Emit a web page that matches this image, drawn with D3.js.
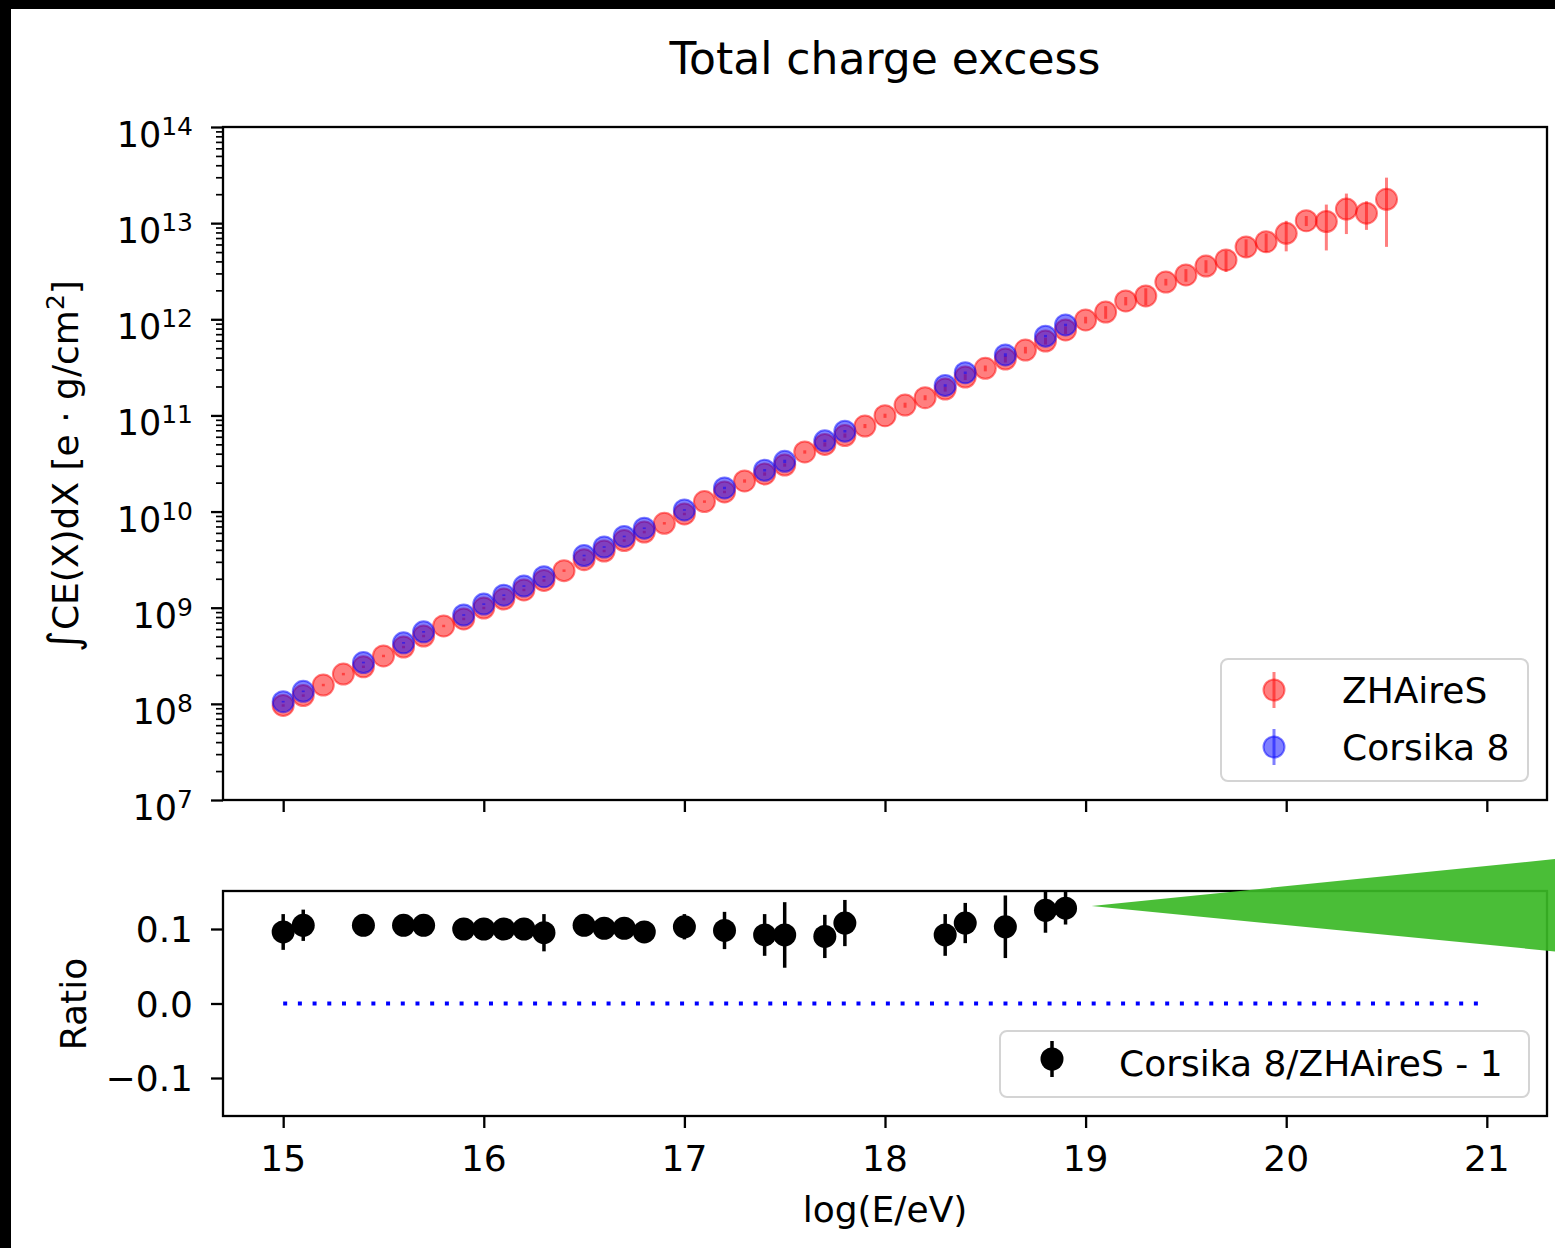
<!DOCTYPE html>
<html>
<head>
<meta charset="utf-8">
<script src="https://cdn.jsdelivr.net/npm/d3@7"></script>
<style>
  body { margin: 0; background: #fff; }
  svg text { font-family: "DejaVu Sans", sans-serif; fill: #000; }
</style>
</head>
<body>
<svg id="chart" width="1555" height="1248"></svg>
<script>
// ZHAireS: every 0.1 in log(E/eV)
var energies = [15.0, 15.1, 15.2, 15.3, 15.4, 15.5, 15.6, 15.7, 15.8, 15.9,
                16.0, 16.1, 16.2, 16.3, 16.4, 16.5, 16.6, 16.7, 16.8, 16.9,
                17.0, 17.1, 17.2, 17.3, 17.4, 17.5, 17.6, 17.7, 17.8, 17.9,
                18.0, 18.1, 18.2, 18.3, 18.4, 18.5, 18.6, 18.7, 18.8, 18.9,
                19.0, 19.1, 19.2, 19.3, 19.4, 19.5, 19.6, 19.7, 19.8, 19.9,
                20.0, 20.1, 20.2, 20.3, 20.4, 20.5];
var zhaires = [9.62e7, 1.22e8, 1.57e8, 2.04e8, 2.43e8, 3.15e8, 3.90e8, 5.08e8, 6.46e8, 7.64e8,
               9.93e8, 1.23e9, 1.53e9, 1.92e9, 2.43e9, 3.16e9, 3.89e9, 5.00e9, 6.12e9, 7.55e9,
               9.44e9, 1.27e10, 1.60e10, 2.08e10, 2.46e10, 3.05e10, 4.17e10, 4.99e10, 6.18e10, 7.76e10,
               9.93e10, 1.28e11, 1.53e11, 1.88e11, 2.51e11, 3.09e11, 3.86e11, 4.79e11, 5.94e11, 7.74e11,
               9.84e11, 1.19e12, 1.55e12, 1.75e12, 2.44e12, 2.89e12, 3.58e12, 4.14e12, 5.65e12, 6.41e12,
               7.83e12, 1.06e13, 1.04e13, 1.40e13, 1.27e13, 1.77e13];
// relative errors
var zhairesErr = [0.03, 0.03, 0.03, 0.03, 0.03, 0.03, 0.03, 0.03, 0.03, 0.03,
                  0.03, 0.03, 0.03, 0.03, 0.03, 0.03, 0.03, 0.03, 0.03, 0.03,
                  0.03, 0.03, 0.03, 0.04, 0.04, 0.04, 0.04, 0.05, 0.05, 0.05,
                  0.05, 0.06, 0.06, 0.06, 0.07, 0.07, 0.08, 0.08, 0.08, 0.09,
                  0.08, 0.15, 0.10, 0.20, 0.08, 0.15, 0.15, 0.25, 0.20, 0.22,
                  0.35, 0.12, 0.50, 0.45, 0.33, 0.68];

var corsikaE = [15.0, 15.1, 15.4, 15.6, 15.7, 15.9, 16.0, 16.1, 16.2, 16.3, 16.5, 16.6, 16.7,
                16.8, 17.0, 17.2, 17.4, 17.5, 17.7, 17.8, 18.3, 18.4, 18.6, 18.8, 18.9];
var corsika = [1.054e8, 1.35e8, 2.69e8, 4.31e8, 5.61e8, 8.40e8, 1.09e9, 1.35e9, 1.68e9, 2.10e9,
               3.49e9, 4.28e9, 5.51e9, 6.71e9, 1.04e10, 1.76e10, 2.69e10, 3.33e10, 5.44e10,
               6.85e10, 2.05e11, 2.78e11, 4.26e11, 6.68e11, 8.73e11];
var corsikaErr = [0.02, 0.02, 0.02, 0.02, 0.02, 0.02, 0.02, 0.02, 0.02, 0.02, 0.02, 0.02, 0.02,
                  0.02, 0.02, 0.03, 0.03, 0.04, 0.03, 0.03, 0.03, 0.03, 0.04, 0.03, 0.03];

var ratio = [0.096, 0.105, 0.105, 0.105, 0.105, 0.100, 0.100, 0.100, 0.100, 0.095, 0.105, 0.101, 0.101,
             0.096, 0.103, 0.098, 0.092, 0.092, 0.090, 0.108, 0.092, 0.108, 0.103, 0.125, 0.128];
var ratioErr = [0.024, 0.021, 0.010, 0.010, 0.010, 0.010, 0.010, 0.010, 0.010, 0.025, 0.010, 0.010, 0.010,
                0.010, 0.017, 0.025, 0.028, 0.044, 0.029, 0.031, 0.028, 0.027, 0.042, 0.030, 0.022];

var xTicks = [15, 16, 17, 18, 19, 20, 21];
var logTicks = [7, 8, 9, 10, 11, 12, 13, 14];
var ratioTicks = [-0.1, 0.0, 0.1];
var ratioTickLabels = ["\u22120.1", "0.0", "0.1"];
var zeroLine = [15, 21];
// green wedge drawn over the ratio panel, in data units
var wedge = [[19.03, 0.131], [21.6, 0.201], [21.6, 0.063]];

var svg = d3.select("#chart");
svg.append("rect").attr("width", 1555).attr("height", 1248).attr("fill", "#fff");

var left = 223, right = 1547;
var top1 = 127, bot1 = 800, top2 = 891, bot2 = 1116;

var x = d3.scaleLinear().domain([14.7, 21.3]).range([left, right]);
var y = d3.scaleLog().domain([1e7, 1e14]).range([bot1, top1]);
var yr = d3.scaleLinear().domain([-0.151, 0.151]).range([bot2, top2]);

var defs = svg.append("defs");
defs.append("clipPath").attr("id", "clipTop").append("rect")
    .attr("x", left).attr("y", top1).attr("width", right - left).attr("height", bot1 - top1);
defs.append("clipPath").attr("id", "clipBot").append("rect")
    .attr("x", left).attr("y", top2).attr("width", right - left).attr("height", bot2 - top2);

function styleAxis(g, w) {
    g.select(".domain").remove();
    g.selectAll(".tick line").attr("stroke", "#000").attr("stroke-width", w);
}

// ---------- top panel ----------
var gTop = svg.append("g");

gTop.append("g").attr("transform", "translate(0," + bot1 + ")")
    .call(d3.axisBottom(x).tickValues(xTicks).tickSize(12).tickFormat(""))
    .call(styleAxis, 2.3);

var minors = [];
logTicks.slice(0, -1).forEach(function(k) {
    for (var m = 2; m < 10; m++) minors.push(m * Math.pow(10, k));
});
gTop.append("g").attr("transform", "translate(" + left + ",0)")
    .call(d3.axisLeft(y).tickValues(minors).tickSize(7).tickFormat(""))
    .call(styleAxis, 1.7);
gTop.append("g").attr("transform", "translate(" + left + ",0)")
    .call(d3.axisLeft(y).tickValues(logTicks.map(function(k) { return Math.pow(10, k); })).tickSize(12).tickFormat(""))
    .call(styleAxis, 2.3);

gTop.selectAll(".ylab").data(logTicks).enter().append("text")
    .attr("class", "ylab")
    .attr("x", 193)
    .attr("y", function(d) { return y(Math.pow(10, d)) + 20; })
    .attr("text-anchor", "end")
    .each(function(d) {
        var t = d3.select(this);
        t.append("tspan").attr("font-size", 35).text("10");
        t.append("tspan").attr("font-size", 25).attr("dy", -12).text(d);
    });

var plotTop = gTop.append("g").attr("clip-path", "url(#clipTop)");

// ZHAireS
plotTop.append("g").selectAll("line").data(energies).enter().append("line")
    .attr("x1", function(d) { return x(d); })
    .attr("x2", function(d) { return x(d); })
    .attr("y1", function(d, i) { return y(zhaires[i] * (1 + zhairesErr[i])); })
    .attr("y2", function(d, i) { return y(zhaires[i] * (1 - zhairesErr[i])); })
    .attr("stroke", "red").attr("stroke-opacity", 0.5).attr("stroke-width", 3);
plotTop.append("g").selectAll("circle").data(energies).enter().append("circle")
    .attr("cx", function(d) { return x(d); })
    .attr("cy", function(d, i) { return y(zhaires[i]); })
    .attr("r", 10.5)
    .attr("fill", "red").attr("fill-opacity", 0.5)
    .attr("stroke", "red").attr("stroke-opacity", 0.5).attr("stroke-width", 2);

// Corsika 8
plotTop.append("g").selectAll("line").data(corsikaE).enter().append("line")
    .attr("x1", function(d) { return x(d); })
    .attr("x2", function(d) { return x(d); })
    .attr("y1", function(d, i) { return y(corsika[i] * (1 + corsikaErr[i])); })
    .attr("y2", function(d, i) { return y(corsika[i] * (1 - corsikaErr[i])); })
    .attr("stroke", "blue").attr("stroke-opacity", 0.5).attr("stroke-width", 3);
plotTop.append("g").selectAll("circle").data(corsikaE).enter().append("circle")
    .attr("cx", function(d) { return x(d); })
    .attr("cy", function(d, i) { return y(corsika[i]); })
    .attr("r", 10.5)
    .attr("fill", "blue").attr("fill-opacity", 0.5)
    .attr("stroke", "blue").attr("stroke-opacity", 0.5).attr("stroke-width", 2);

gTop.append("rect")
    .attr("x", left).attr("y", top1).attr("width", right - left).attr("height", bot1 - top1)
    .attr("fill", "none").attr("stroke", "#000").attr("stroke-width", 2.3);

// legend top
var leg1 = gTop.append("g");
leg1.append("rect").attr("x", 1221).attr("y", 659).attr("width", 307).attr("height", 122).attr("rx", 7)
    .attr("fill", "#fff").attr("fill-opacity", 0.8).attr("stroke", "#d4d4d4").attr("stroke-width", 2);
[["ZHAireS", "red", 690], ["Corsika 8", "blue", 747]].forEach(function(e) {
    leg1.append("line").attr("x1", 1274).attr("x2", 1274).attr("y1", e[2] - 18).attr("y2", e[2] + 18)
        .attr("stroke", e[1]).attr("stroke-opacity", 0.5).attr("stroke-width", 3);
    leg1.append("circle").attr("cx", 1274).attr("cy", e[2]).attr("r", 10.5)
        .attr("fill", e[1]).attr("fill-opacity", 0.5)
        .attr("stroke", e[1]).attr("stroke-opacity", 0.5).attr("stroke-width", 2);
    leg1.append("text").attr("x", 1342).attr("y", e[2] + 13).attr("font-size", 36).text(e[0]);
});

// ---------- ratio panel ----------
var gBot = svg.append("g");

gBot.append("g").attr("transform", "translate(0," + bot2 + ")")
    .call(d3.axisBottom(x).tickValues(xTicks).tickSize(12).tickFormat(""))
    .call(styleAxis, 2.3);
gBot.append("g").attr("transform", "translate(" + left + ",0)")
    .call(d3.axisLeft(yr).tickValues(ratioTicks).tickSize(12).tickFormat(""))
    .call(styleAxis, 2.3);

gBot.selectAll(".xlab").data(xTicks).enter().append("text")
    .attr("x", function(d) { return x(d); })
    .attr("y", 1171)
    .attr("text-anchor", "middle").attr("font-size", 36)
    .text(function(d) { return d; });
gBot.selectAll(".rlab").data(ratioTicks).enter().append("text")
    .attr("x", 193)
    .attr("y", function(d) { return yr(d) + 13; })
    .attr("text-anchor", "end").attr("font-size", 36)
    .text(function(d, i) { return ratioTickLabels[i]; });

var plotBot = gBot.append("g").attr("clip-path", "url(#clipBot)");

plotBot.append("line")
    .attr("x1", x(zeroLine[0])).attr("x2", x(zeroLine[1]))
    .attr("y1", yr(0)).attr("y2", yr(0))
    .attr("stroke", "blue").attr("stroke-width", 4).attr("stroke-dasharray", "4,10.7");

plotBot.append("g").selectAll("line").data(corsikaE).enter().append("line")
    .attr("x1", function(d) { return x(d); })
    .attr("x2", function(d) { return x(d); })
    .attr("y1", function(d, i) { return yr(ratio[i] + ratioErr[i]); })
    .attr("y2", function(d, i) { return yr(ratio[i] - ratioErr[i]); })
    .attr("stroke", "#000").attr("stroke-width", 3.5);
plotBot.append("g").selectAll("circle").data(corsikaE).enter().append("circle")
    .attr("cx", function(d) { return x(d); })
    .attr("cy", function(d, i) { return yr(ratio[i]); })
    .attr("r", 11.5)
    .attr("fill", "#000");

gBot.append("rect")
    .attr("x", left).attr("y", top2).attr("width", right - left).attr("height", bot2 - top2)
    .attr("fill", "none").attr("stroke", "#000").attr("stroke-width", 2.3);

var leg2 = gBot.append("g");
leg2.append("rect").attr("x", 1000).attr("y", 1031).attr("width", 529).attr("height", 66).attr("rx", 7)
    .attr("fill", "#fff").attr("fill-opacity", 0.8).attr("stroke", "#d4d4d4").attr("stroke-width", 2);
leg2.append("line").attr("x1", 1052).attr("x2", 1052).attr("y1", 1041).attr("y2", 1077)
    .attr("stroke", "#000").attr("stroke-width", 3.5);
leg2.append("circle").attr("cx", 1052).attr("cy", 1059).attr("r", 11.5).attr("fill", "#000");
leg2.append("text").attr("x", 1119).attr("y", 1076).attr("font-size", 36).text("Corsika 8/ZHAireS - 1");

// wedge
svg.append("polygon")
    .attr("points", wedge.map(function(p) { return x(p[0]) + "," + yr(p[1]); }).join(" "))
    .attr("fill", "rgb(59,184,38)").attr("fill-opacity", 0.92);

// ---------- titles and labels ----------
svg.append("text").attr("x", 885).attr("y", 74).attr("text-anchor", "middle")
    .attr("font-size", 44).text("Total charge excess");

svg.append("text").attr("x", 885).attr("y", 1222).attr("text-anchor", "middle")
    .attr("font-size", 36).text("log(E/eV)");

svg.append("text").attr("transform", "translate(78,466) rotate(-90)")
    .attr("text-anchor", "middle").attr("font-size", 36)
    .call(function(t) {
        t.append("tspan").attr("font-size", 42).text("\u222B");
        t.append("tspan").text("CE(X)dX [e \u00B7 g/cm");
        t.append("tspan").attr("font-size", 25).attr("dy", -14).text("2");
        t.append("tspan").attr("dy", 14).text("]");
    });

svg.append("text").attr("transform", "translate(86,1004) rotate(-90)")
    .attr("text-anchor", "middle").attr("font-size", 36).text("Ratio");

// black frame strips of the screenshot
svg.append("rect").attr("x", 0).attr("y", 0).attr("width", 1555).attr("height", 9).attr("fill", "#000");
svg.append("rect").attr("x", 0).attr("y", 0).attr("width", 11).attr("height", 1248).attr("fill", "#000");
</script>
</body>
</html>
